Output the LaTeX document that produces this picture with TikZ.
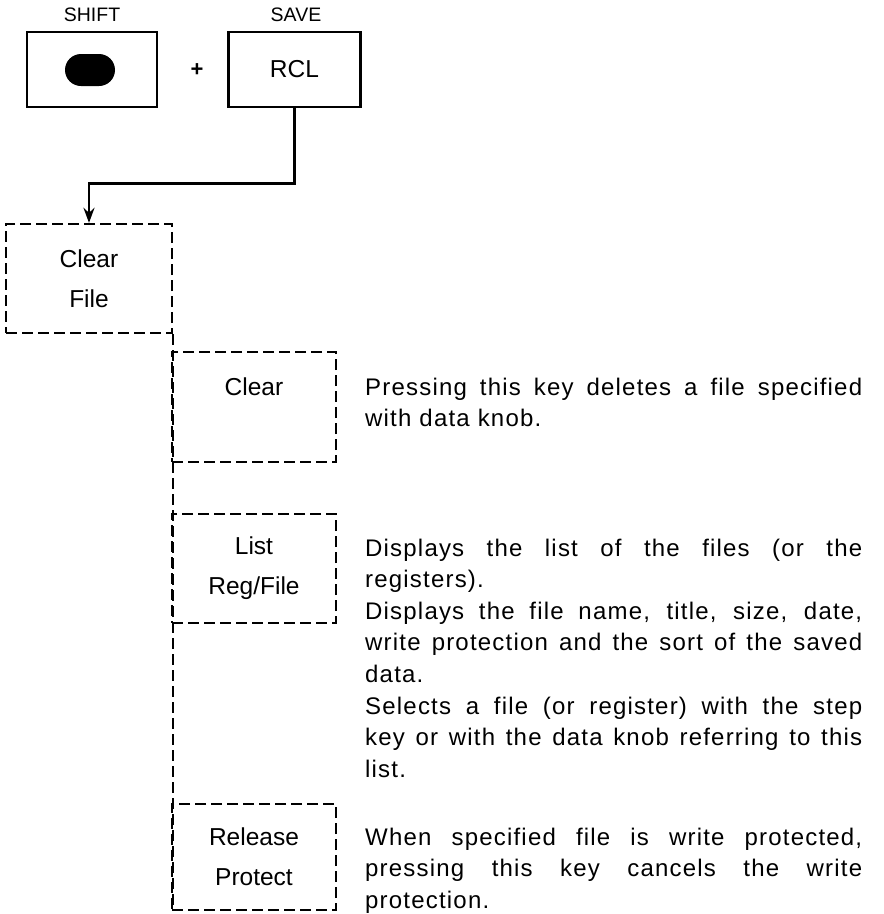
\documentclass[tikz,border=0pt]{standalone}
\usepackage{fontspec}
\setmainfont{Liberation Sans}
\newfontfamily\descfont[LetterSpace=5]{Liberation Sans}
\usetikzlibrary{arrows.meta,positioning}
% one fully spread line of the description text
\newcommand{\spreadline}[1]{\makebox[497pt][s]{\spaceskip=0.3em plus 1fil\relax #1}}

\begin{document}
\begin{tikzpicture}[x=1pt,y=-1pt,
    keybox/.style={draw,line width=2.6pt,minimum width=132pt,minimum height=75pt,inner sep=0pt},
    softkey/.style={draw,line width=2.3pt,dash pattern=on 11pt off 5pt,minimum width=164pt,inner sep=0pt,align=center,font=\fontsize{24.5}{40}\selectfont},
    keylabel/.style={font=\fontsize{19.5}{22}\selectfont},
    desc/.style={anchor=base west,align=left,text width=497pt,inner sep=0pt,font=\descfont\fontsize{24}{31.6}\selectfont}]
  \useasboundingbox (0,0) rectangle (884,914);

  % hard keys
  \node[keybox,minimum width=130pt] (shift) at (92,69.5) {};
  \node[fill,rounded corners=16pt,minimum width=50pt,minimum height=32pt,inner sep=0pt] (oval) at (90,70) {};
  \node[keybox,font=\fontsize{24.5}{28}\selectfont] (rcl) at (294.5,69.5) {RCL};
  \node[keylabel] (shiftlab) at (92,15) {SHIFT};
  \node[keylabel] (savelab) at (296,15) {SAVE};
  \node[font=\fontsize{22}{24}\selectfont\bfseries] (plus) at (197,70) {+};

  % soft keys
  \node[softkey,minimum width=166pt,minimum height=109pt] (cf) at (89,278.5) {Clear\\File};
  \node[softkey,minimum height=110pt] (clr) at (254,407) {Clear\\\mbox{}};
  \node[softkey,minimum height=109pt] (list) at (254,568.5) {List\\Reg/File};
  \node[softkey,minimum height=106pt] (rp) at (254,857) {Release\\Protect};
  \draw[line width=2.3pt,dash pattern=on 11pt off 5pt] (cf.south east) -- (cf.south east |- rp.south west);

  \draw[line width=2.6pt,-{Stealth[length=15pt,width=11pt,inset=5pt]}] (rcl.south) -- ++(0,75) -| (cf.north);

  % descriptions
  \node[desc] (d1) at (365,395) {\spreadline{Pressing this key deletes a file specified}\\with data knob.};
  \node[desc] (d2) at (365,556) {\spreadline{Displays the list of the files (or the}\\registers).\\
    \spreadline{Displays the file name, title, size, date,}\\\spreadline{write protection and the sort of the saved}\\data.\\
    \spreadline{Selects a file (or register) with the step}\\\spreadline{key or with the data knob referring to this}\\list.};
  \node[desc] (d3) at (365,845) {\spreadline{When specified file is write protected,}\\\spreadline{pressing this key cancels the write}\\protection.};
\end{tikzpicture}
\end{document}
